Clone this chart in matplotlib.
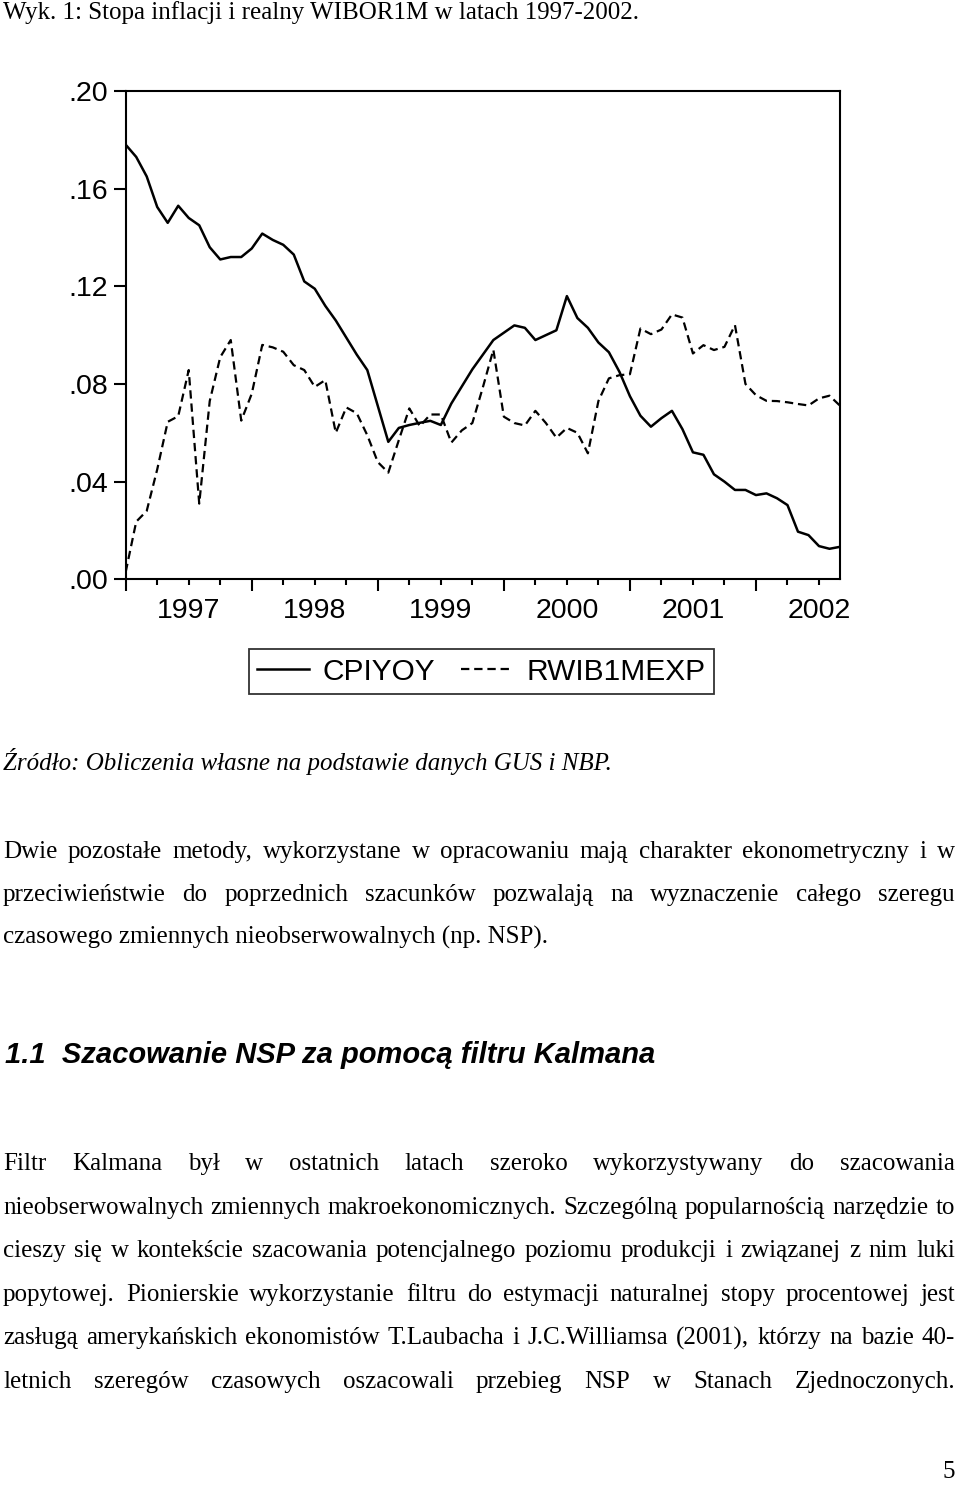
import numpy as np
import matplotlib
matplotlib.use("Agg")
import matplotlib.pyplot as plt
from matplotlib.ticker import FixedLocator, FixedFormatter

W, H = 960, 1492

# monthly observations, Jan 1997 .. Sep 2002
cpiyoy = [0.178, 0.173, 0.165, 0.1525, 0.146, 0.153, 0.148, 0.145, 0.136, 0.131, 0.132, 0.132,
          0.1355, 0.1416, 0.139, 0.137, 0.133, 0.122, 0.119, 0.112, 0.106, 0.099, 0.092, 0.0857,
          0.071, 0.0563, 0.062, 0.0632, 0.0641, 0.0649, 0.0632, 0.072, 0.079, 0.086, 0.092, 0.098,
          0.101, 0.104, 0.103, 0.098, 0.100, 0.102, 0.116, 0.107, 0.103, 0.097, 0.093, 0.085,
          0.075, 0.067, 0.0625, 0.066, 0.069, 0.0615, 0.052, 0.051, 0.043, 0.040, 0.0366, 0.0366,
          0.0345, 0.0352, 0.0332, 0.0304, 0.0195, 0.0181, 0.0136, 0.0125, 0.0133]
rwib1mexp = [0.003, 0.0236, 0.028, 0.045, 0.0645, 0.0668, 0.0857, 0.031, 0.073, 0.091, 0.098, 0.065,
             0.076, 0.096, 0.095, 0.0932, 0.0877, 0.0857, 0.0788, 0.0816, 0.060, 0.0704, 0.068, 0.059,
             0.048, 0.0437, 0.057, 0.070, 0.0627, 0.0675, 0.0675, 0.056, 0.061, 0.064, 0.0786, 0.094,
             0.0666, 0.064, 0.063, 0.069, 0.064, 0.058, 0.062, 0.060, 0.0516, 0.073, 0.0823, 0.0836,
             0.084, 0.1027, 0.1004, 0.1023, 0.1085, 0.1072, 0.0925, 0.0959, 0.0939, 0.0952, 0.1041, 0.080,
             0.0754, 0.0731, 0.073, 0.0725, 0.0718, 0.0712, 0.0741, 0.0752, 0.0711]
years = ["1997", "1998", "1999", "2000", "2001", "2002"]
yticks = [0.00, 0.04, 0.08, 0.12, 0.16, 0.20]

title = "Wyk. 1: Stopa inflacji i realny WIBOR1M w latach 1997-2002."
source = "Źródło: Obliczenia własne na podstawie danych GUS i NBP."
para1 = ["Dwie pozostałe metody, wykorzystane w opracowaniu mają charakter ekonometryczny i w",
         "przeciwieństwie do poprzednich szacunków pozwalają na wyznaczenie całego szeregu",
         "czasowego zmiennych nieobserwowalnych (np. NSP)."]
heading = "1.1  Szacowanie NSP za pomocą filtru Kalmana"
para2 = ["Filtr Kalmana był w ostatnich latach szeroko wykorzystywany do szacowania",
         "nieobserwowalnych zmiennych makroekonomicznych. Szczególną popularnością narzędzie to",
         "cieszy się w kontekście szacowania potencjalnego poziomu produkcji i związanej z nim luki",
         "popytowej. Pionierskie wykorzystanie filtru do estymacji naturalnej stopy procentowej jest",
         "zasługą amerykańskich ekonomistów T.Laubacha i J.C.Williamsa (2001), którzy na bazie 40-",
         "letnich szeregów czasowych oszacowali przebieg NSP w Stanach Zjednoczonych."]

plt.rcParams['font.family'] = ['Liberation Sans', 'DejaVu Sans']
plt.rcParams['lines.scale_dashes'] = False

fig = plt.figure(figsize=(W / 100, H / 100), dpi=100)
ax = fig.add_axes([125.7 / W, 1 - 579.3 / H, (840 - 125.7) / W, (579.3 - 91) / H])

months = np.arange(len(cpiyoy))
ax.plot(months, cpiyoy, color='black', lw=1.8, label='CPIYOY')
ax.plot(months, rwib1mexp, color='black', lw=1.6, dashes=(6, 3.5), label='RWIB1MEXP')

ax.set_xlim(0, len(cpiyoy) - 1)
ax.set_ylim(0, 0.20)
for s in ax.spines.values():
    s.set_linewidth(1.5)

ax.set_yticks(yticks)
ax.set_yticklabels([".%02d" % round(v * 100) for v in yticks])
ax.tick_params(axis='y', length=8.6, width=1.5, pad=4.3, labelsize=20.5)

ax.xaxis.set_major_locator(FixedLocator(np.arange(0, 61, 12)))
ax.xaxis.set_major_formatter(FixedFormatter([""] * 6))
minor = [m for m in range(3, 68, 3) if m % 12]
ax.xaxis.set_minor_locator(FixedLocator(minor))
ax.xaxis.set_minor_formatter(FixedFormatter([years[m // 12] if m % 12 == 6 else "" for m in minor]))
ax.tick_params(axis='x', which='major', length=8.6, width=1.5)
ax.tick_params(axis='x', which='minor', length=4.3, width=1.5, pad=9.0, labelsize=20.5)

leg = fig.legend(loc='center', bbox_to_anchor=(481.5 / W, 1 - 671.5 / H), ncol=2,
                 fontsize=21.5, frameon=True, fancybox=False, edgecolor='black',
                 handlelength=1.75, handletextpad=0.45, columnspacing=0.85, borderpad=0.28)
leg.get_frame().set_linewidth(1.3)

serif = dict(family=['Liberation Serif', 'DejaVu Serif'], fontsize=18, va='baseline')
fig.text(3 / W, 1 - 19 / H, title, **serif)
fig.text(3 / W, 1 - 770 / H, source, style='italic', **serif)


def justify(line, y, x0=3, x1=955):
    r = fig.canvas.get_renderer()
    words = line.split()
    objs = [fig.text(0, 1 - y / H, w, **serif) for w in words]
    widths = [o.get_window_extent(r).width for o in objs]
    gap = (x1 - x0 - sum(widths)) / (len(words) - 1)
    x = x0
    for o, w in zip(objs, widths):
        o.set_x(x / W)
        x += w + gap


for i, line in enumerate(para1[:2]):
    justify(line, 858 + 43 * i)
fig.text(3 / W, 1 - 944 / H, para1[2], **serif)

fig.text(5 / W, 1 - 1063 / H, heading, fontsize=21, weight='bold', style='italic',
         family=['Liberation Sans', 'DejaVu Sans'], va='baseline')

for i, line in enumerate(para2):
    justify(line, 1170 + 43.6 * i)

fig.text(955 / W, 1 - 1478 / H, "5", ha='right', **serif)

fig.savefig("out.png", dpi=100)
